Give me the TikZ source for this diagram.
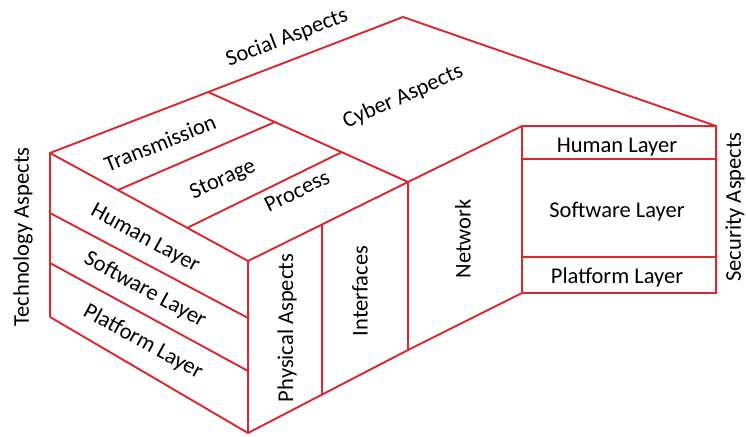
\documentclass[tikz,border=0pt]{standalone}
\usepackage{fontspec}
\setmainfont{Carlito}
\definecolor{edgered}{RGB}{218,38,46}
\begin{document}
\begin{tikzpicture}[x=1pt,y=-1pt,
  edge/.style={draw=edgered,line width=1.9pt,line join=miter},
  lbl/.style={font=\fontsize{22.5}{26}\selectfont,inner sep=0pt}]
\useasboundingbox (0,0) rectangle (746,436);
% corners
\coordinate (TL) at (50,153);
\coordinate (AP) at (403,17);
\coordinate (D1) at (208,92);
\coordinate (FC) at (248,261);
\coordinate (RC) at (408,182);
\coordinate (T1) at (118,190);
\coordinate (T2) at (275,122);
\coordinate (S1) at (187,228);
\coordinate (S2) at (342,152);
\coordinate (L0) at (50,317);
\coordinate (H1) at (50,213);
\coordinate (H2) at (248,318);
\coordinate (P1) at (50,263);
\coordinate (P2) at (248,371);
\coordinate (FB) at (248,433);
\coordinate (RB) at (408,350);
\coordinate (I1) at (322,225);
\coordinate (I2) at (322,395);
\coordinate (SB1) at (522,126);
\coordinate (SB2) at (716,126);
\coordinate (SB3) at (716,293);
\coordinate (SB4) at (522,293);
\coordinate (SH1) at (522,159);
\coordinate (SH2) at (716,159);
\coordinate (SP1) at (522,257);
\coordinate (SP2) at (716,257);
% edges
\draw[edge] (L0) -- (TL) -- (AP) -- (SB2);
\draw[edge] (TL) -- (FC) -- (FB);
\draw[edge] (L0) -- (FB) -- (RB) -- (SB4);
\draw[edge] (H1) -- (H2);
\draw[edge] (P1) -- (P2);
\draw[edge] (D1) -- (RC);
\draw[edge] (T1) -- (T2);
\draw[edge] (S1) -- (S2);
\draw[edge] (FC) -- (RC) -- (SB1);
\draw[edge] (RC) -- (RB);
\draw[edge] (I1) -- (I2);
\draw[edge] (SB1) -- (SB2) -- (SB3) -- (SB4) -- cycle;
\draw[edge] (SH1) -- (SH2);
\draw[edge] (SP1) -- (SP2);
% labels
\node[lbl,rotate=21] (social) at (287,38) {Social Aspects};
\node[lbl,rotate=24] (cyber) at (403,97) {Cyber Aspects};
\node[lbl,rotate=22] (trans) at (160,143) {Transmission};
\node[lbl,rotate=24.5] (stor) at (223,180) {Storage};
\node[lbl,rotate=26] (proc) at (297,191) {Process};
\node[lbl,rotate=-28.6] (hum) at (145,239) {Human Layer};
\node[lbl,rotate=-28.6] (soft) at (145,290) {Software Layer};
\node[lbl,rotate=-28.6] (plat) at (143,342) {Platform Layer};
\node[lbl,rotate=90] (phys) at (287,328) {Physical Aspects};
\node[lbl,rotate=90] (intf) at (360,291) {Interfaces};
\node[lbl,rotate=90] (net) at (463,239) {Network};
\node[lbl] (shum) at (617,147) {Human Layer};
\node[lbl] (ssoft) at (617,212) {Software Layer};
\node[lbl] (splat) at (617,277) {Platform Layer};
\node[lbl,rotate=90] (sec) at (735,207) {Security Aspects};
\node[lbl,rotate=90] (tech) at (23,237) {Technology Aspects};
\end{tikzpicture}
\end{document}
